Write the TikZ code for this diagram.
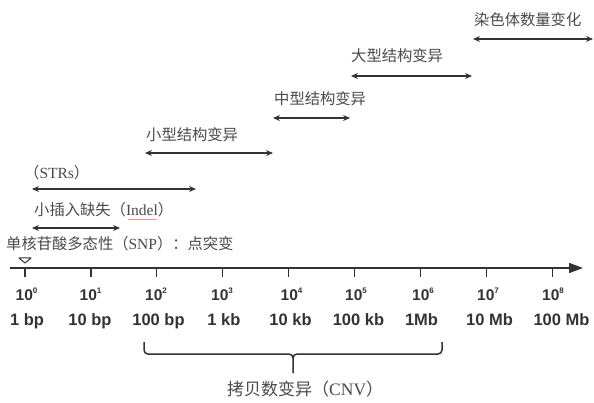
\documentclass[tikz,border=0pt]{standalone}
\usepackage{fontspec}
\setmainfont{Liberation Sans}
\newfontfamily\cjk{Noto Sans CJK SC}
\newfontfamily\latser{Liberation Serif}
\usetikzlibrary{arrows.meta}
\definecolor{ink}{HTML}{333333}
\definecolor{cnink}{HTML}{4A4A4A}
\tikzset{
  dbl/.style={draw=ink, line width=1.3pt, {Stealth[length=7pt,width=6pt,inset=2.5pt]}-{Stealth[length=7pt,width=6pt,inset=2.5pt]}},
  cnlabel/.style={anchor=west, inner sep=0pt, text=cnink, font=\cjk\fontsize{15.3}{18}\selectfont},
  explabel/.style={anchor=base, inner sep=0pt, text=ink, font=\fontsize{15.5}{18}\selectfont\bfseries},
  unitlabel/.style={anchor=base, inner sep=0pt, text=ink, font=\fontsize{16.5}{18}\selectfont\bfseries},
  tickline/.style={draw=ink, line width=1.3pt},
  bracestyle/.style={draw=ink, line width=1.5pt}
}
\newcommand{\expo}[1]{10\raisebox{6pt}{\fontsize{8}{8}\selectfont\bfseries #1}}
\newcommand{\lat}[1]{{\latser\fontsize{15.5}{18}\selectfont #1}}
\begin{document}
\begin{tikzpicture}[x=1pt, y=-1pt]
\useasboundingbox (0,0) rectangle (594,403);
\fill[white] (0,0) rectangle (594,403);

% axis
\coordinate (ax0) at (10,268);
\coordinate (ax1) at (583,268);
\draw[ink, line width=1.6pt, -{Triangle[length=14pt,width=10pt]}] (ax0) -- (ax1);

% ticks and labels
\foreach \i/\ex/\ux/\u in {0/26.5/27/1 bp,1/90.5/90/10 bp,2/156/158.5/100 bp,3/222/224/1 kb,4/291.5/290.5/10 kb,5/356/358.5/100 kb,6/423/421.5/1Mb,7/488/489.5/10 Mb,8/553/561.5/100 Mb}{
  \coordinate (t\i) at ({25+65.9*\i},268);
  \coordinate (tb\i) at ({25+65.9*\i},277);
  \draw[tickline] (t\i) -- (tb\i);
  \node[explabel] (e\i) at (\ex,300) {\expo{\i}};
  \node[unitlabel] (u\i) at (\ux,325) {\u};
}

% marker triangle
\coordinate (m1) at (19,258);
\coordinate (m2) at (31,258);
\coordinate (m3) at (25,263);
\draw[ink, line width=1pt, fill=white, line join=round] (m1) -- (m2) -- (m3) -- cycle;

% SNP
\node[cnlabel] (snp) at (6,244) {单核苷酸多态性（\lat{SNP}）：点突变};

% Indel
\node[cnlabel] (indel) at (34,210) {小插入缺失（\lat{Indel}）};
\coordinate (il1) at (128,219.5);
\coordinate (il2) at (157,219.5);
\draw[red!45, line width=0.6pt] (il1) -- (il2);
\coordinate (ia) at (32,228);
\coordinate (ib) at (120,228);
\draw[dbl] (ia) -- (ib);

% STRs
\node[cnlabel] (strs) at (24,173) {（\lat{STRs}）};
\coordinate (sa) at (32,189);
\coordinate (sb) at (196,189);
\draw[dbl] (sa) -- (sb);

% small SV
\node[cnlabel] (small) at (146,135) {小型结构变异};
\coordinate (xa) at (145,153);
\coordinate (xb) at (273,153);
\draw[dbl] (xa) -- (xb);

% medium SV
\node[cnlabel] (medium) at (274,99) {中型结构变异};
\coordinate (ma) at (273,118);
\coordinate (mb) at (350,118);
\draw[dbl] (ma) -- (mb);

% large SV
\node[cnlabel] (large) at (351,56) {大型结构变异};
\coordinate (la) at (351,76);
\coordinate (lb) at (472,76);
\draw[dbl] (la) -- (lb);

% chromosome number
\node[cnlabel] (chrom) at (474,20) {染色体数量变化};
\coordinate (ca) at (473,39);
\coordinate (cb) at (593,39);
\draw[dbl] (ca) -- (cb);

% brace
\coordinate (bl0) at (144,342);
\coordinate (bl1) at (144,350);
\coordinate (bl2) at (148,354);
\coordinate (bm1) at (289,354);
\coordinate (bm) at (293,358);
\coordinate (bm2) at (297,354);
\coordinate (bs) at (293,373);
\coordinate (br2) at (438,354);
\coordinate (br1) at (442,350);
\coordinate (br0) at (442,342);
\draw[bracestyle] (bl0) -- (bl1) to[out=-90,in=180] (bl2) -- (bm1) to[out=0,in=90] (bm) -- (bs);
\draw[bracestyle] (br0) -- (br1) to[out=-90,in=0] (br2) -- (bm2) to[out=180,in=90] (bm);

\node[cnlabel, font=\cjk\fontsize{17}{20}\selectfont] (cnv) at (227,389) {拷贝数变异（{\latser\fontsize{17.5}{20}\selectfont CNV}）};
\end{tikzpicture}
\end{document}
